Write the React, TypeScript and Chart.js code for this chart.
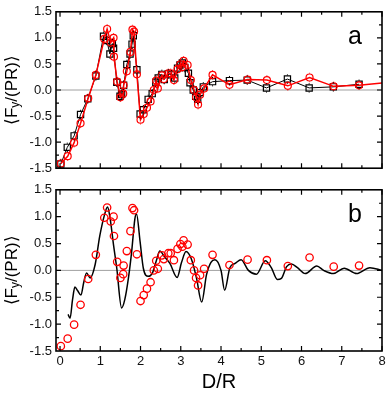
import React, { useEffect, useRef } from "react";
import { Chart, registerables } from "chart.js";

Chart.register(...registerables);

const FONT = "'Liberation Sans', Arial, Helvetica, sans-serif";

// Tick labels
const xTickValues = [0, 1, 2, 3, 4, 5, 6, 7, 8];
const yTickValues = [-1.5, -1.0, -0.5, 0.0, 0.5, 1.0, 1.5];

// Experimental data (red circles), shown in both panels
const expD = [0.02, 0.19, 0.35, 0.51, 0.70, 0.89, 1.10, 1.17, 1.26, 1.33, 1.34, 1.42, 1.50, 1.57, 1.58, 1.66, 1.75, 1.80, 1.84, 1.91, 2.00, 2.08, 2.16, 2.25, 2.33, 2.39, 2.43, 2.53, 2.58, 2.69, 2.75, 2.83, 2.92, 2.99, 3.04, 3.07, 3.17, 3.25, 3.33, 3.38, 3.43, 3.48, 3.58, 3.79, 4.21, 4.66, 5.14, 5.66, 6.20, 6.80, 7.43];
const expF = [-1.41, -1.27, -1.01, -0.64, -0.16, 0.29, 0.98, 1.17, 0.91, 1.00, 0.64, 0.16, -0.14, -0.07, 0.09, 0.36, 0.73, 1.16, 1.12, 0.30, -0.57, -0.46, -0.34, -0.22, 0.00, 0.18, 0.03, 0.28, 0.21, 0.32, 0.32, 0.19, 0.40, 0.49, 0.44, 0.56, 0.48, 0.19, 0.00, -0.14, -0.28, -0.09, 0.03, 0.29, 0.10, 0.20, 0.19, 0.08, 0.24, 0.07, 0.09];
// extra point of the red line at the right edge of panel a
const expTailD = [8.1];
const expTailF = [0.14];

// Simulation data (black squares) in panel a
const simD = [0.02, 0.18, 0.35, 0.51, 0.69, 0.89, 1.08, 1.16, 1.24, 1.30, 1.33, 1.41, 1.49, 1.53, 1.58, 1.66, 1.74, 1.79, 1.82, 1.91, 1.99, 2.07, 2.19, 2.29, 2.38, 2.44, 2.53, 2.59, 2.69, 2.77, 2.85, 2.92, 2.98, 3.04, 3.10, 3.19, 3.23, 3.31, 3.37, 3.42, 3.48, 3.56, 3.79, 4.21, 4.65, 5.13, 5.65, 6.19, 6.79, 7.43];
const simF = [-1.42, -1.10, -0.88, -0.47, -0.17, 0.27, 1.03, 0.95, 0.69, 0.89, 0.80, 0.15, -0.12, -0.08, 0.09, 0.49, 0.69, 0.88, 1.04, 0.39, -0.46, -0.38, -0.18, -0.07, 0.15, 0.23, 0.30, 0.20, 0.31, 0.29, 0.23, 0.42, 0.48, 0.52, 0.43, 0.32, 0.14, 0.00, -0.12, -0.18, -0.05, 0.06, 0.16, 0.18, 0.19, 0.04, 0.21, 0.04, 0.06, 0.11];
const ERR = 0.09;

// Theory curve (black line) in panel b
const theoryD = [0.20, 0.25, 0.31, 0.37, 0.44, 0.52, 0.59, 0.66, 0.75, 0.87, 0.99, 1.10, 1.18, 1.24, 1.33, 1.41, 1.53, 1.61, 1.70, 1.78, 1.86, 1.90, 1.99, 2.07, 2.19, 2.30, 2.40, 2.48, 2.60, 2.73, 2.91, 3.02, 3.13, 3.27, 3.39, 3.52, 3.64, 3.75, 3.85, 4.00, 4.09, 4.22, 4.35, 4.50, 4.68, 4.88, 5.10, 5.25, 5.40, 5.50, 5.63, 5.75, 5.90, 6.09, 6.38, 6.55, 6.79, 7.06, 7.37, 7.70, 8.00];
const theoryF = [-0.82, -0.89, -0.55, -0.31, -0.38, -0.46, -0.22, -0.05, -0.14, 0.10, 0.65, 1.02, 1.18, 0.99, 0.47, 0.04, -0.70, -0.54, -0.14, 0.35, 0.96, 1.05, 0.53, 0.04, -0.11, -0.04, 0.20, 0.36, 0.25, 0.13, -0.13, 0.15, 0.35, 0.20, -0.14, -0.59, -0.08, 0.15, 0.20, 0.00, -0.37, 0.05, 0.13, 0.20, 0.00, -0.07, 0.18, 0.05, -0.17, -0.15, 0.07, 0.12, 0.05, -0.06, 0.08, 0.00, -0.06, 0.04, -0.06, 0.05, 0.00];

const pts = (xs: number[], ys: number[]) => xs.map((x, i) => ({ x, y: ys[i] }));

function decor(panel: string, xTitle: boolean) {
  return {
    id: "decor" + panel,
    beforeDatasetsDraw(chart: any) {
      const { ctx, chartArea: ca, scales } = chart;
      const y0 = scales.y.getPixelForValue(0);
      ctx.save();
      ctx.strokeStyle = "#a0a0a0";
      ctx.lineWidth = 1;
      ctx.beginPath();
      ctx.moveTo(ca.left, y0);
      ctx.lineTo(ca.right, y0);
      ctx.stroke();
      ctx.restore();
    },
    afterDatasetsDraw(chart: any) {
      const { ctx, scales } = chart;
      chart.data.datasets.forEach((ds: any, i: number) => {
        if (!ds.errBars) return;
        const meta = chart.getDatasetMeta(i);
        const half = ds.errGap;
        ctx.save();
        ctx.strokeStyle = ds.borderColor;
        ctx.lineWidth = 1;
        meta.data.forEach((el: any, j: number) => {
          const v = ds.data[j].y;
          if (ds.data[j].x > 8) return;
          const yt = scales.y.getPixelForValue(v + ERR);
          const yb = scales.y.getPixelForValue(v - ERR);
          ctx.beginPath();
          ctx.moveTo(el.x, yt);
          ctx.lineTo(el.x, el.y - half);
          ctx.moveTo(el.x, yb);
          ctx.lineTo(el.x, el.y + half);
          ctx.stroke();
        });
        ctx.restore();
      });
    },
    afterDraw(chart: any) {
      const { ctx, chartArea: ca, scales } = chart;
      ctx.save();
      // inward ticks
      ctx.strokeStyle = "#000";
      ctx.lineWidth = 1.2;
      ctx.beginPath();
      for (let k = 0; k <= 16; k++) {
        const v = k * 0.5;
        const major = k % 2 === 0;
        const len = major ? 5 : 3;
        const px = scales.x.getPixelForValue(v);
        ctx.moveTo(px, ca.bottom);
        ctx.lineTo(px, ca.bottom - len);
        ctx.moveTo(px, ca.top);
        ctx.lineTo(px, ca.top + len);
      }
      for (let k = 1; k < 12; k++) {
        const v = -1.5 + k * 0.25;
        const major = k % 2 === 0;
        const len = major ? 5 : 3;
        const py = scales.y.getPixelForValue(v);
        ctx.moveTo(ca.left, py);
        ctx.lineTo(ca.left + len, py);
        ctx.moveTo(ca.right, py);
        ctx.lineTo(ca.right - len, py);
      }
      ctx.stroke();
      // frame
      ctx.lineWidth = 1.6;
      ctx.strokeRect(ca.left, ca.top, ca.right - ca.left, ca.bottom - ca.top);

      // panel letter
      ctx.fillStyle = "#000";
      ctx.font = `25px ${FONT}`;
      ctx.textAlign = "left";
      ctx.textBaseline = "alphabetic";
      ctx.fillText(panel, 348, ca.top + 32);

      // y title with subscript
      const cy = (ca.top + ca.bottom) / 2;
      ctx.translate(12, cy);
      ctx.rotate(-Math.PI / 2);
      ctx.textBaseline = "middle";
      const big = `17px ${FONT}`;
      const small = `12px ${FONT}`;
      const p1 = "\u27E8F";
      const p2 = "y";
      const p3 = "/(PR)\u27E9";
      ctx.font = big;
      const w1 = ctx.measureText(p1).width;
      const w3 = ctx.measureText(p3).width;
      ctx.font = small;
      const w2 = ctx.measureText(p2).width;
      let u = -(w1 + w2 + w3) / 2;
      ctx.font = big;
      ctx.fillText(p1, u, 0);
      u += w1;
      ctx.font = small;
      ctx.fillText(p2, u, 4);
      u += w2;
      ctx.font = big;
      ctx.fillText(p3, u, 0);
      ctx.setTransform(1, 0, 0, 1, 0, 0);

      if (xTitle) {
        ctx.font = `20px ${FONT}`;
        ctx.textAlign = "center";
        ctx.textBaseline = "middle";
        ctx.fillText("D/R", (ca.left + ca.right) / 2, ca.bottom + 31);
      }
      ctx.restore();
    },
  };
}

function yScale() {
  return {
    type: "linear" as const,
    min: -1.5,
    max: 1.5,
    afterFit: (s: any) => {
      s.width = 56;
    },
    afterBuildTicks: (s: any) => {
      s.ticks = yTickValues.map((v) => ({ value: v }));
    },
    grid: { display: false, drawTicks: false },
    border: { display: false },
    ticks: {
      padding: 4,
      color: "#111",
      font: { family: FONT, size: 13 },
      callback: (v: any) => Number(v).toFixed(1),
    },
  };
}

export default function App() {
  const refA = useRef<HTMLCanvasElement>(null);
  const refB = useRef<HTMLCanvasElement>(null);

  useEffect(() => {
    const common = {
      animation: false as const,
      responsive: false,
      events: [] as any[],
      plugins: { legend: { display: false }, tooltip: { enabled: false } },
    };

    const a = new Chart(refA.current!, {
      type: "line",
      data: {
        datasets: [
          {
            data: pts(expD.concat(expTailD), expF.concat(expTailF)),
            borderColor: "#ff0000",
            backgroundColor: "rgba(0,0,0,0)",
            borderWidth: 1.5,
            pointStyle: "circle",
            pointRadius: 3.5,
            pointBorderWidth: 1.2,
            pointBorderColor: "#ff0000",
            pointBackgroundColor: "rgba(0,0,0,0)",
            tension: 0,
            errBars: true,
            errGap: 4,
          } as any,
          {
            data: pts(simD, simF),
            borderColor: "#000000",
            backgroundColor: "rgba(0,0,0,0)",
            borderWidth: 1,
            pointStyle: "rect",
            pointRadius: 4.4,
            pointBorderWidth: 1.2,
            pointBorderColor: "#000000",
            pointBackgroundColor: "rgba(0,0,0,0)",
            tension: 0,
            errBars: true,
            errGap: 3.6,
          } as any,
        ],
      },
      options: {
        ...common,
        layout: { padding: { left: 0, right: 8, top: 9, bottom: 9 } },
        scales: {
          x: { type: "linear", min: -0.1, max: 8, display: false },
          y: yScale() as any,
        },
      },
      plugins: [decor("a", false)],
    });

    const b = new Chart(refB.current!, {
      type: "line",
      data: {
        datasets: [
          {
            data: pts(expD, expF),
            showLine: false,
            borderColor: "#ff0000",
            backgroundColor: "rgba(0,0,0,0)",
            pointStyle: "circle",
            pointRadius: 3.7,
            pointBorderWidth: 1.3,
            pointBorderColor: "#ff0000",
            pointBackgroundColor: "rgba(0,0,0,0)",
          },
          {
            data: pts(theoryD, theoryF),
            borderColor: "#000000",
            borderWidth: 1.5,
            pointRadius: 0,
            cubicInterpolationMode: "monotone",
            fill: false,
          },
        ],
      },
      options: {
        ...common,
        layout: { padding: { left: 0, right: 8, top: 9, bottom: 0 } },
        scales: {
          x: {
            type: "linear",
            min: -0.1,
            max: 8,
            afterFit: (s: any) => {
              s.height = 44;
            },
            afterBuildTicks: (s: any) => {
              s.ticks = xTickValues.map((v) => ({ value: v }));
            },
            grid: { display: false, drawTicks: false },
            border: { display: false },
            ticks: {
              padding: 3,
              color: "#111",
              maxRotation: 0,
              font: { family: FONT, size: 13 },
              callback: (v: any) => String(v),
            },
          },
          y: yScale() as any,
        },
      },
      plugins: [decor("b", true)],
    });

    return () => {
      a.destroy();
      b.destroy();
    };
  }, []);

  return (
    <div style={{ position: "absolute", left: 0, top: 0, width: 390, height: 395, background: "#fff" }}>
      <canvas ref={refA} width={390} height={180} style={{ position: "absolute", left: 0, top: 0, width: 390, height: 180 }} />
      <canvas ref={refB} width={390} height={217} style={{ position: "absolute", left: 0, top: 178, width: 390, height: 217 }} />
    </div>
  );
}
